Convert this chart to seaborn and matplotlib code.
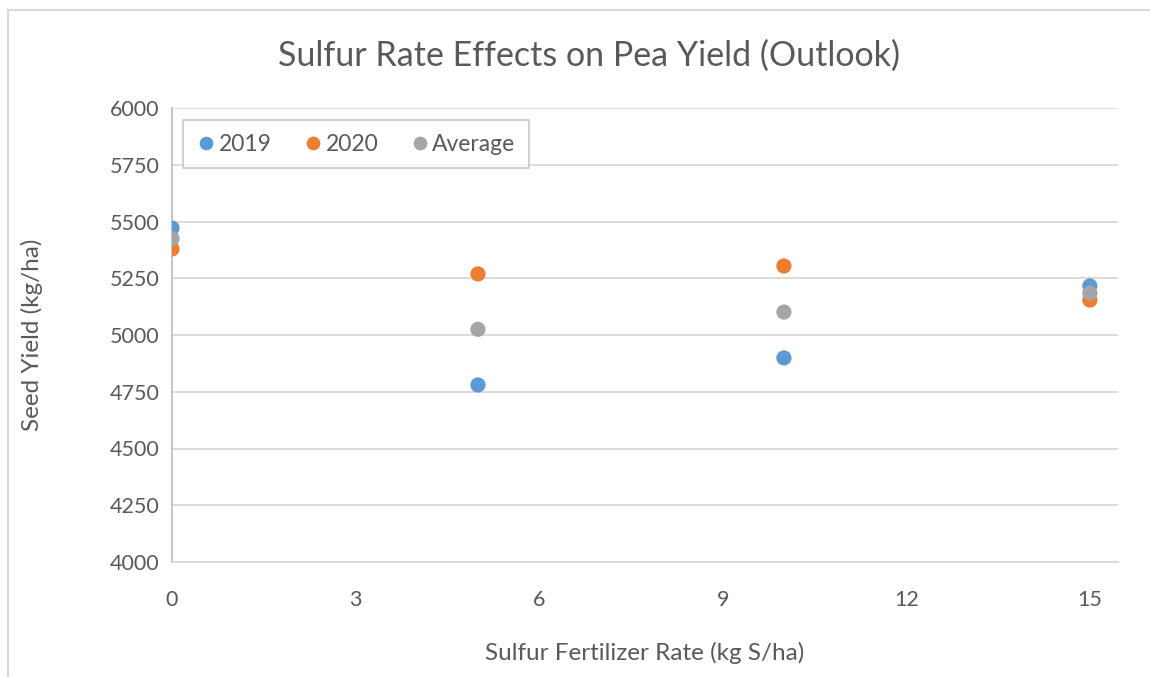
import pandas as pd
import matplotlib.pyplot as plt
import seaborn as sns
from matplotlib.lines import Line2D

# -----------------------------------------------------------
# DATA

rates = [0, 5, 10, 15]
yield_2019 = [5471, 4780, 4899, 5216]
yield_2020 = [5379, 5269, 5304, 5154]
yield_avg = [5425, 5025, 5101, 5185]

series_names = ["2019", "2020", "Average"]
colors = ["#5B9BD5", "#ED7D31", "#A5A5A5"]

x_ticks = [0, 3, 6, 9, 12, 15]
y_ticks = [4000, 4250, 4500, 4750, 5000, 5250, 5500, 5750, 6000]

df = pd.DataFrame({
    "rate": rates * 3,
    "yield": yield_2019 + yield_2020 + yield_avg,
    "series": [s for s in series_names for _ in rates],
})

# -----------------------------------------------------------
# PLOT

sns.set_style("white")
plt.rcParams["font.family"] = ["Lato", "DejaVu Sans"]
text_col = "#595959"

fig = plt.figure(figsize=(11.5, 6.77), dpi=100)
ax = fig.add_axes([172 / 1150, 1 - 562 / 677, 946 / 1150, 454 / 677])

sns.scatterplot(data=df, x="rate", y="yield", hue="series",
                palette=colors, s=120, edgecolor="none", ax=ax, zorder=3)

ax.set_xlim(0, 15.46)
ax.set_ylim(4000, 6000)
ax.set_xticks(x_ticks)
ax.set_yticks(y_ticks)
ax.tick_params(labelsize=15.5, labelcolor=text_col, length=0)
ax.tick_params(axis="x", pad=20)
ax.tick_params(axis="y", pad=9)
ax.yaxis.grid(True, color="#d9d9d9", lw=1.3)
ax.set_axisbelow(True)
for side in ["top", "right"]:
    ax.spines[side].set_visible(False)
ax.spines["left"].set_color("#bfbfbf")
ax.spines["left"].set_linewidth(1.3)
ax.spines["bottom"].set_color("#d9d9d9")
ax.spines["bottom"].set_linewidth(1.3)

ax.set_xlabel("Sulfur Fertilizer Rate (kg S/ha)", fontsize=17.5, color=text_col, labelpad=23)
ax.set_ylabel("Seed Yield (kg/ha)", fontsize=17.5, color=text_col, labelpad=48)
fig.text(589 / 1150, 1 - 56 / 677, "Sulfur Rate Effects on Pea Yield (Outlook)",
         ha="center", va="center", fontsize=24.5, color=text_col)

leg = ax.legend(loc="upper left", bbox_to_anchor=(0.012, 0.974), borderaxespad=0,
                ncol=3, frameon=True, fancybox=False, fontsize=16.5,
                handlelength=0.8, handletextpad=0.15, columnspacing=1.4,
                borderpad=0.6, markerscale=0.9)
leg.get_frame().set_edgecolor("#bfbfbf")
leg.get_frame().set_linewidth(1.3)
for t in leg.get_texts():
    t.set_color(text_col)

# chart border (top and left edges visible)
fig.add_artist(Line2D([8 / 1150, 1], [1 - 10 / 677, 1 - 10 / 677], color="#d9d9d9", lw=1.5))
fig.add_artist(Line2D([8 / 1150, 8 / 1150], [0, 1 - 10 / 677], color="#d9d9d9", lw=1.5))

plt.savefig("out.png", dpi=100)
plt.close()
